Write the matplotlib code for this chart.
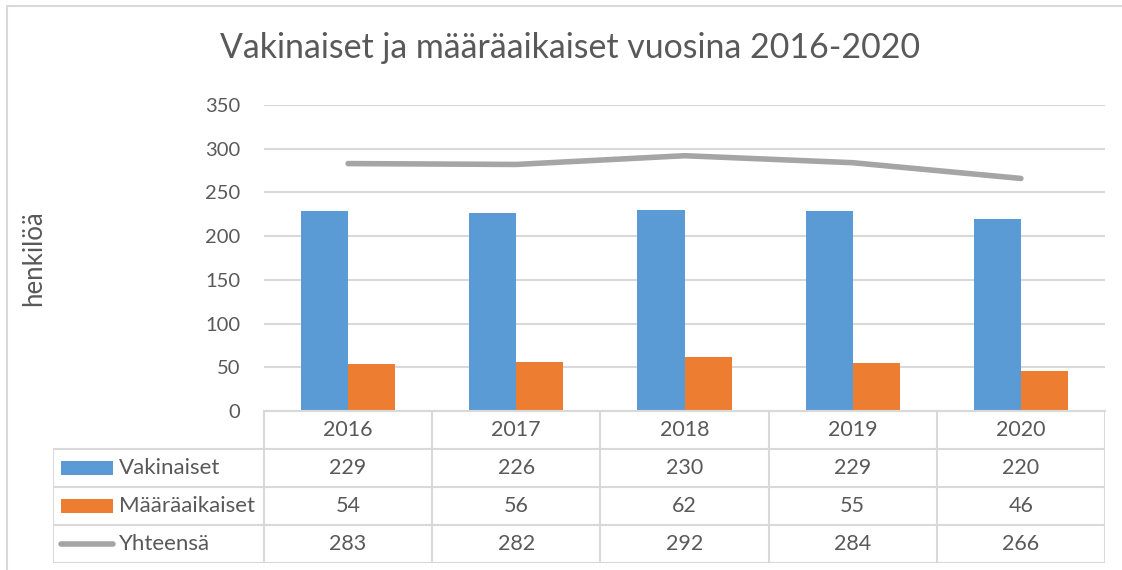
import matplotlib
matplotlib.use("Agg")
import matplotlib.pyplot as plt
from matplotlib.patches import Rectangle
from matplotlib.lines import Line2D

years = ["2016", "2017", "2018", "2019", "2020"]
vakinaiset = [229, 226, 230, 229, 220]
maaraaikaiset = [54, 56, 62, 55, 46]
yhteensa = [283, 282, 292, 284, 266]
series_names = ["Vakinaiset", "Määräaikaiset", "Yhteensä"]
title = "Vakinaiset ja määräaikaiset vuosina 2016-2020"
ylabel = "henkilöä"
yticks = [0, 50, 100, 150, 200, 250, 300, 350]

BLUE = "#5B9BD5"
ORANGE = "#ED7D31"
GRAY = "#A5A5A5"
GRID = "#D9D9D9"
TXT = "#595959"

plt.rcParams["font.family"] = ["Lato", "DejaVu Sans"]

W, H = 1122, 570
fig = plt.figure(figsize=(W / 100, H / 100), dpi=100)

def fx(px):
    return px / W

def fy(py):
    return 1 - py / H

# chart frame (cropped at right and bottom)
fig.patches.append(Rectangle((fx(7), fy(H + 10)), fx(W + 20), fy(6) - fy(H + 10),
                             transform=fig.transFigure, fill=False,
                             edgecolor=GRID, linewidth=1.5))

left, right, top, bottom = 264, 1105, 105, 411
ax = fig.add_axes([fx(left), fy(bottom), fx(right - left), fy(top) - fy(bottom)])
n = len(years)
x = list(range(n))
bw = 0.28
ax.bar([i - bw / 2 for i in x], vakinaiset, width=bw, color=BLUE, zorder=3)
ax.bar([i + bw / 2 for i in x], maaraaikaiset, width=bw, color=ORANGE, zorder=3)
ax.plot(x, yhteensa, color=GRAY, linewidth=4, solid_capstyle="round", zorder=4)
ax.set_xlim(-0.5, n - 0.5)
ax.set_ylim(0, 350)
ax.set_yticks(yticks)
ax.set_yticklabels([str(v) for v in yticks], fontsize=14.5, color=TXT)
ax.tick_params(axis="y", length=0, pad=17)
ax.set_xticks([])
ax.grid(axis="y", color=GRID, linewidth=1.5, zorder=0)
for s in ["top", "right", "left"]:
    ax.spines[s].set_visible(False)
ax.spines["bottom"].set_color(GRID)
ax.spines["bottom"].set_linewidth(1.5)
ax.spines["bottom"].set_zorder(5)

fig.text(fx(34), fy(258), ylabel, rotation=90, ha="center", va="center",
         fontsize=18.5, color=TXT)
fig.text(fx(570), fy(48), title, ha="center", va="center", fontsize=24.4, color=TXT)

# data table
tleft, tbottom = 53, 563
colw = (right - left) / n
tax = fig.add_axes([fx(tleft), fy(tbottom), fx(right - tleft), fy(bottom) - fy(tbottom)])
x0 = -0.5 - (left - tleft) / colw
tax.set_xlim(x0, n - 0.5)
tax.set_ylim(4, 0)
tax.axis("off")
lk = dict(color=GRID, linewidth=1.5, solid_capstyle="butt")
# horizontal lines
tax.add_line(Line2D([-0.5, n - 0.5], [0, 0], **lk))
for r in range(1, 5):
    tax.add_line(Line2D([x0, n - 0.5], [r, r], **lk))
# vertical lines
tax.add_line(Line2D([x0, x0], [1, 4], **lk))
for c in range(n + 1):
    tax.add_line(Line2D([c - 0.5, c - 0.5], [0, 4], **lk))

fs = 15.5
for i, yr in enumerate(years):
    tax.text(i, 0.5, yr, ha="center", va="center", fontsize=fs, color=TXT)
rows = [vakinaiset, maaraaikaiset, yhteensa]
for r, vals in enumerate(rows):
    for i, v in enumerate(vals):
        tax.text(i, r + 1.5, str(v), ha="center", va="center", fontsize=fs, color=TXT)

# legend keys in the table
kx0 = x0 + 8 / colw
kx1 = x0 + 60 / colw
tx = x0 + 66 / colw
tax.add_patch(Rectangle((kx0, 1.5 - 0.18), kx1 - kx0, 0.36, color=BLUE, linewidth=0))
tax.add_patch(Rectangle((kx0, 2.5 - 0.18), kx1 - kx0, 0.36, color=ORANGE, linewidth=0))
tax.add_line(Line2D([kx0, kx1], [3.5, 3.5], color=GRAY, linewidth=4, solid_capstyle="round"))
for r, name in enumerate(series_names):
    tax.text(tx, r + 1.5, name, ha="left", va="center", fontsize=16, color=TXT)

fig.savefig("out.png", dpi=100)
